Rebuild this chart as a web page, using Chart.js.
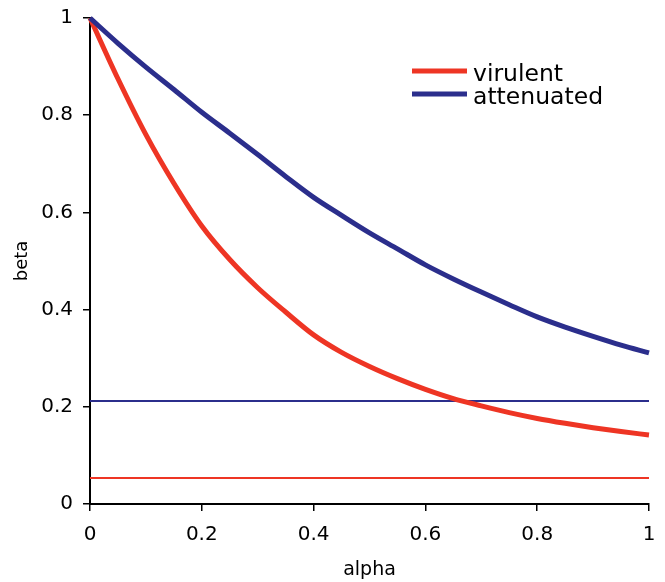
<!DOCTYPE html>
<html>
<head>
<meta charset="utf-8">
<script src="https://cdn.jsdelivr.net/npm/chart.js@4"></script>
<style>
html,body{margin:0;padding:0;background:#fff;}
#wrap{width:665px;height:582px;}
</style>
</head>
<body>
<div id="wrap"><canvas id="c" width="665" height="582"></canvas></div>
<script>
const alphaValues = [0,0.05,0.1,0.15,0.2,0.25,0.3,0.35,0.4,0.45,0.5,0.55,0.6,0.65,0.7,0.75,0.8,0.85,0.9,0.95,1];
const virulent   = [1.0,0.875,0.76,0.66,0.572,0.503,0.445,0.395,0.348,0.312,0.283,0.258,0.236,0.217,0.202,0.188,0.176,0.166,0.157,0.149,0.142];
const attenuated = [1.0,0.948,0.899,0.853,0.806,0.763,0.719,0.674,0.631,0.594,0.558,0.525,0.492,0.463,0.436,0.410,0.385,0.364,0.345,0.327,0.311];
const thresholdX = [0, 1];
const virulentThreshold = 0.0535;
const attenuatedThreshold = 0.212;
const seriesNames = ['virulent', 'attenuated'];
const xTicks = [0,0.2,0.4,0.6,0.8,1];
const yTicks = [0,0.2,0.4,0.6,0.8,1];
const xTickLabels = ['0','0.2','0.4','0.6','0.8','1'];
const yTickLabels = ['0','0.2','0.4','0.6','0.8','1'];

const RED = '#EE3524';
const BLUE = '#2B2E8C';
const FONT = "'DejaVu Sans', Verdana, sans-serif";

const toPts = (xs, ys) => xs.map((x, i) => ({x, y: ys[i]}));

const legendPlugin = {
  id: 'customLegend',
  afterDraw(chart) {
    const ctx = chart.ctx;
    const items = [
      {label: chart.data.datasets[0].label, color: chart.data.datasets[0].borderColor, y: 71, base: 81},
      {label: chart.data.datasets[1].label, color: chart.data.datasets[1].borderColor, y: 94, base: 104}
    ];
    ctx.save();
    items.forEach(it => {
      ctx.strokeStyle = it.color;
      ctx.lineWidth = 5;
      ctx.lineCap = 'butt';
      ctx.beginPath();
      ctx.moveTo(412, it.y);
      ctx.lineTo(467, it.y);
      ctx.stroke();
      ctx.fillStyle = '#000';
      ctx.font = '23.5px ' + FONT;
      ctx.textBaseline = 'alphabetic';
      ctx.textAlign = 'left';
      ctx.fillText(it.label, 473, it.base);
    });
    ctx.restore();
  }
};

new Chart(document.getElementById('c'), {
  type: 'line',
  data: {
    datasets: [
      {label: seriesNames[0], data: toPts(alphaValues, virulent), borderColor: RED, borderWidth: 5, pointRadius: 0, cubicInterpolationMode: 'monotone', fill: false, clip: false, order: 1},
      {label: seriesNames[1], data: toPts(alphaValues, attenuated), borderColor: BLUE, borderWidth: 5, pointRadius: 0, cubicInterpolationMode: 'monotone', fill: false, clip: false, order: 0},
      {label: 'virulent threshold', data: toPts(thresholdX, thresholdX.map(() => virulentThreshold)), borderColor: RED, borderWidth: 2, pointRadius: 0, fill: false, order: 3},
      {label: 'attenuated threshold', data: toPts(thresholdX, thresholdX.map(() => attenuatedThreshold)), borderColor: BLUE, borderWidth: 2, pointRadius: 0, fill: false, order: 2}
    ]
  },
  options: {
    responsive: false,
    animation: false,
    devicePixelRatio: 1,
    layout: {padding: {top: 18, right: 16, bottom: 0, left: 0}},
    plugins: {legend: {display: false}, tooltip: {enabled: false}},
    scales: {
      x: {
        type: 'linear', min: 0, max: 1,
        afterBuildTicks(s) { s.ticks = xTicks.map(v => ({value: v})); },
        afterFit(s) { s.height = 78; s.paddingRight = 0; s.paddingLeft = 0; },
        grid: {display: true, drawOnChartArea: false, drawTicks: true, tickLength: 7, color: '#000', lineWidth: 1.5},
        border: {display: true, color: '#000', width: 2},
        ticks: {color: '#000', font: {family: FONT, size: 20}, padding: 12, maxRotation: 0,
          callback: (v) => xTickLabels[xTicks.indexOf(v)] ?? ''},
        title: {display: true, text: 'alpha', color: '#000', font: {family: FONT, size: 19}, padding: {top: 0, bottom: 1}}
      },
      y: {
        type: 'linear', min: 0, max: 1,
        afterBuildTicks(s) { s.ticks = yTicks.map(v => ({value: v})); },
        afterFit(s) { s.width = 90; s.paddingTop = 0; s.paddingBottom = 0; },
        grid: {display: true, drawOnChartArea: false, drawTicks: true, tickLength: 7, color: '#000', lineWidth: 1.5},
        border: {display: true, color: '#000', width: 2},
        ticks: {color: '#000', font: {family: FONT, size: 20}, padding: 10,
          callback: (v) => yTickLabels[yTicks.indexOf(v)] ?? ''},
        title: {display: true, text: 'beta', color: '#000', font: {family: FONT, size: 18}, padding: {top: 12, bottom: 0}}
      }
    }
  },
  plugins: [legendPlugin]
});
</script>
</body>
</html>
